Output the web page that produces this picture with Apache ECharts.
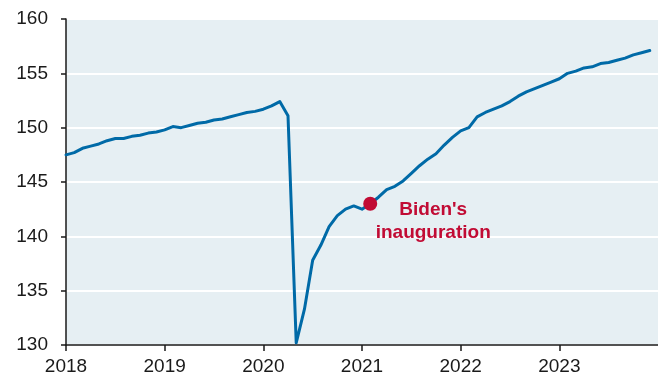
<!DOCTYPE html>
<html>
<head>
<meta charset="utf-8">
<script src="https://cdn.jsdelivr.net/npm/echarts@6/dist/echarts.min.js"></script>
<style>
html,body{margin:0;padding:0;background:#fff;}
#c{width:658px;height:380px;}
</style>
</head>
<body>
<div id="c"></div>
<script>
// Monthly payroll employment (millions), Jan 2018 – Dec 2023
const startYear = 2018;
const payrolls = [
  147.5, 147.7, 148.1, 148.3, 148.5, 148.8, 149.0, 149.0, 149.2, 149.3, 149.5, 149.6,
  149.8, 150.1, 150.0, 150.2, 150.4, 150.5, 150.7, 150.8, 151.0, 151.2, 151.4, 151.5,
  151.7, 152.0, 152.4, 151.1, 130.2, 133.3, 137.8, 139.2, 140.9, 141.9, 142.5, 142.8,
  142.5, 143.0, 143.6, 144.3, 144.6, 145.1, 145.8, 146.5, 147.1, 147.6, 148.4, 149.1,
  149.7, 150.0, 151.0, 151.4, 151.7, 152.0, 152.4, 152.9, 153.3, 153.6, 153.9, 154.2,
  154.5, 155.0, 155.2, 155.5, 155.6, 155.9, 156.0, 156.2, 156.4, 156.7, 156.9, 157.1
];
const yearTicks = [2018, 2019, 2020, 2021, 2022, 2023];
const eventPoint = [2021 + 1/12, 143.0];
const eventLabel = "Biden's\ninauguration";

const lineData = payrolls.map((v, i) => [startYear + i / 12, v]);

const font = 'Arial, "Liberation Sans", sans-serif';
const chart = echarts.init(document.getElementById('c'));
chart.setOption({
  animation: false,
  grid: { left: 66, right: 0, top: 19, bottom: 35, show: true, backgroundColor: '#e6eff3', borderWidth: 0 },
  xAxis: {
    type: 'value', min: 2018, max: 2024, interval: 1,
    axisLine: { show: true, lineStyle: { color: '#1a1a1a', width: 1.5 } },
    axisTick: { show: true, length: 6, customValues: yearTicks, lineStyle: { color: '#1a1a1a', width: 1.5 } },
    axisLabel: {
      color: '#1a1a1a', fontSize: 19, fontFamily: font, margin: 12,
      customValues: yearTicks,
      formatter: v => yearTicks.includes(v) ? String(v) : ''
    },
    splitLine: { show: false }
  },
  yAxis: {
    type: 'value', min: 130, max: 160, interval: 5,
    axisLine: { show: true, lineStyle: { color: '#1a1a1a', width: 1.5 } },
    axisTick: { show: true, length: 5, lineStyle: { color: '#1a1a1a', width: 1.5 } },
    axisLabel: { color: '#1a1a1a', fontSize: 19, fontFamily: font, margin: 18 },
    splitLine: { show: true, lineStyle: { color: '#ffffff', width: 2 } }
  },
  series: [
    {
      type: 'line', data: lineData, showSymbol: false, symbol: 'none',
      lineStyle: { color: '#006aa7', width: 3, join: 'round', cap: 'round' }, z: 3
    },
    {
      type: 'scatter', data: [eventPoint], symbolSize: 14,
      itemStyle: { color: '#c10b34', opacity: 1 }, z: 4,
      label: {
        show: true, formatter: eventLabel, position: [70, 25],
        align: 'center', verticalAlign: 'middle',
        color: '#c10b34', fontSize: 19, fontWeight: 'bold', fontFamily: font, lineHeight: 23
      }
    }
  ]
});
</script>
</body>
</html>
